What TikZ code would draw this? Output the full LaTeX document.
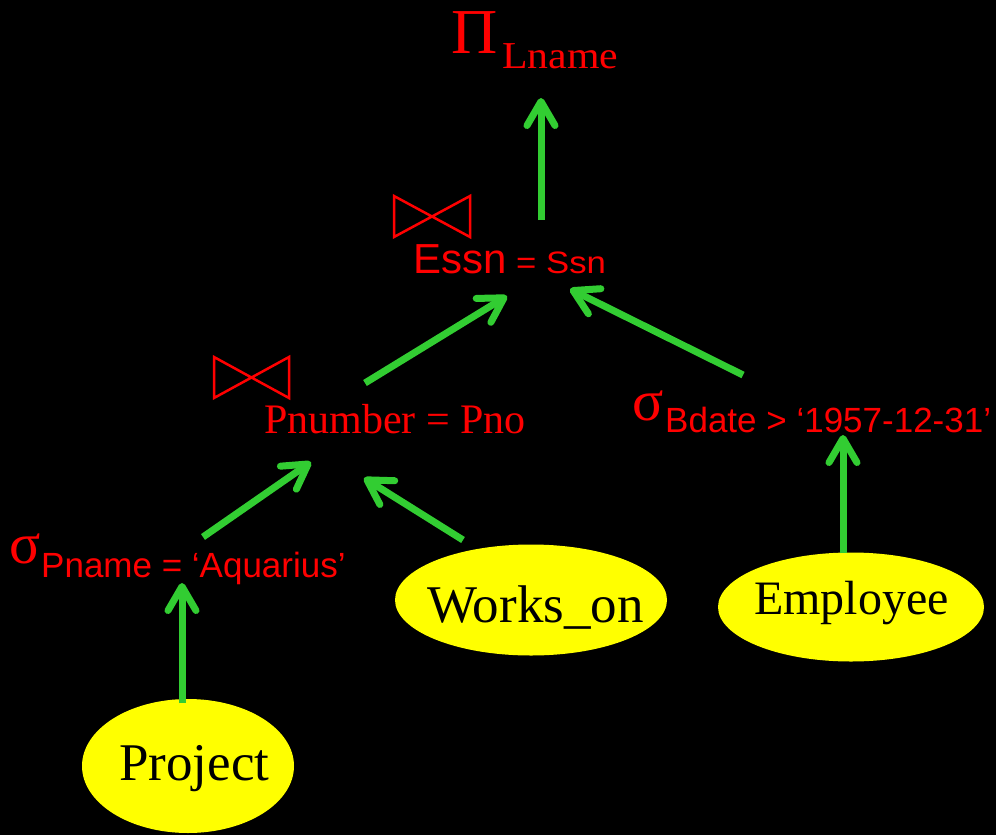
\documentclass[tikz,border=0pt]{standalone}
\usepackage{fontspec}
\setmainfont{Liberation Serif}
\newfontfamily\arialf{Liberation Sans}
\usepackage{graphicx}
\usetikzlibrary{arrows.meta,shapes.geometric}
\definecolor{lgreen}{RGB}{50,205,50}
\definecolor{ryellow}{RGB}{255,255,0}
\newcommand{\fsz}[1]{\fontsize{#1}{#1}\selectfont}
\begin{document}
\begin{tikzpicture}[x=1pt,y=-1pt,
  arr/.style={draw=lgreen, line width=7pt, -{Straight Barb[length=24pt,width=28pt,round]}},
  lbl/.style={text=red, inner sep=0pt, anchor=base west},
  rel/.style={fill=ryellow, ellipse, inner sep=0pt},
  reltext/.style={text=black, inner sep=0pt, anchor=base west},
  bow/.style={draw=red, line width=2.5pt, line join=miter}]
\fill[black] (0,0) rectangle (996,835);
\useasboundingbox (0,0) rectangle (996,835);

% projection
\node[lbl, font=\fsz{64}] (pi) at (451,53) {Π};
\node[lbl, font=\fsz{38}] (lname) at (502,68) {\scalebox{1.1}[1]{Lname}};

% join 1
\draw[bow] (394,196) -- (470,237) -- (470,196) -- (394,237) -- cycle;
\node[lbl, font=\arialf\fsz{42}] (essn) at (413,273) {Essn};
\node[lbl, font=\arialf\fsz{31}] (ssn) at (516,273) {\scalebox{1.12}[1]{= Ssn}};

% join 2
\draw[bow] (214,357) -- (289,398) -- (289,357) -- (214,398) -- cycle;
\node[lbl, font=\fsz{42}] (pno) at (264,433) {Pnumber = Pno};

% select Bdate
\node[lbl, font=\fsz{58}] (sigb) at (632,420) {σ};
\node[lbl, font=\arialf\fsz{35}] (bdate) at (665,432) {Bdate > ‘1957-12-31’};

% select Pname
\node[lbl, font=\fsz{58}] (sigp) at (9,563) {σ};
\node[lbl, font=\arialf\fsz{35}] (pname) at (41,577) {Pname = ‘Aquarius’};

% relations
\node[rel, minimum width=272pt, minimum height=111pt] (works) at (531,600) {};
\node[reltext, font=\fsz{53}] (workst) at (427,622) {Works\_on};
\node[rel, minimum width=266pt, minimum height=109pt] (emp) at (851,607) {};
\node[reltext, font=\fsz{48}] (empt) at (754,614) {Employee};
\node[rel, minimum width=212pt, minimum height=134pt] (proj) at (188,766) {};
\node[reltext, font=\fsz{53}] (projt) at (119,780) {Project};

% arrows
\coordinate (a1s) at (541,220); \coordinate (a1e) at (541,98);
\coordinate (a2s) at (365,383); \coordinate (a2e) at (507,296);
\coordinate (a3s) at (743,375); \coordinate (a3e) at (570,289);
\coordinate (a4s) at (843,553); \coordinate (a4e) at (843,435);
\coordinate (a5s) at (203,537); \coordinate (a5e) at (311,462);
\coordinate (a6s) at (463,540); \coordinate (a6e) at (364,478);
\coordinate (a7s) at (182,703); \coordinate (a7e) at (182,583);
\foreach \i in {1,...,7} {\draw[arr] (a\i s) -- (a\i e);}
\end{tikzpicture}
\end{document}
